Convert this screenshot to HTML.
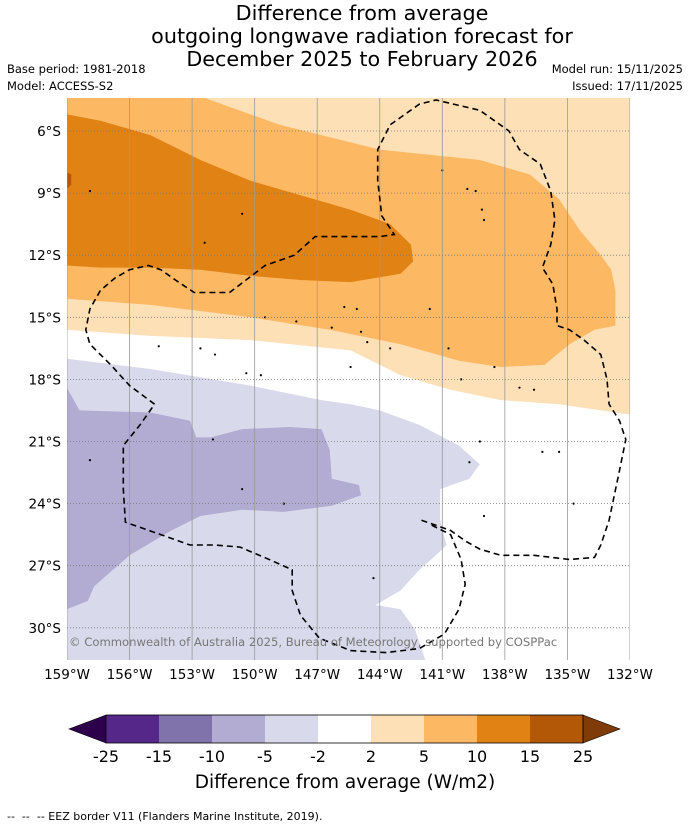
<!DOCTYPE html>
<html><head><meta charset="utf-8"><style>
body{margin:0;background:#fff;width:690px;height:827px;overflow:hidden;font-family:"Liberation Sans","DejaVu Sans",sans-serif}
</style></head><body>
<svg id="chart" width="690" height="827" xmlns="http://www.w3.org/2000/svg" font-family="DejaVu Sans, Liberation Sans, sans-serif">
<text x="362" y="20" font-size="20.7" text-anchor="middle">Difference from average</text>
<text x="362" y="43" font-size="20.7" text-anchor="middle">outgoing longwave radiation forecast for</text>
<text x="362" y="66" font-size="20.7" text-anchor="middle">December 2025 to February 2026</text>
<text x="7" y="73" font-size="11.5">Base period: 1981-2018</text>
<text x="7" y="90" font-size="11.5">Model: ACCESS-S2</text>
<text x="683" y="73" font-size="11.5" text-anchor="end">Model run: 15/11/2025</text>
<text x="683" y="90" font-size="11.5" text-anchor="end">Issued: 17/11/2025</text>
<defs><clipPath id="mapclip"><rect x="67" y="98" width="563" height="562"/></clipPath></defs>
<g id="map" clip-path="url(#mapclip)"></g>
<g id="axes"></g>
<g id="cbar"></g>
<text x="345" y="788" font-size="18.5" text-anchor="middle">Difference from average (W/m2)</text>
<text x="7" y="820" font-size="11" style="white-space:pre">--  --  -- EEZ border V11 (Flanders Marine Institute, 2019).</text>
</svg>
<script>
// data: [lon°W, lat°S]
const lightOrange=[[159,4.4],[132,4.4],[132,19.7],[135.4,19.2],[138.2,19.0],[140.6,18.5],[143.0,17.8],[145.4,16.6],[150.2,16.1],[155.0,15.9],[159,15.6]];
const medOrange=[[159,4.4],[152.4,4.4],[148.8,5.7],[144.0,6.9],[139.2,7.4],[136.8,8.1],[135.4,9.3],[134.4,10.8],[133.4,12.0],[132.9,12.7],[132.7,13.7],[132.7,15.4],[133.7,15.6],[134.9,16.3],[136.1,17.3],[138.2,17.4],[140.2,17.1],[143.0,16.3],[146.4,15.6],[150.2,15.0],[155.0,14.4],[159,14.1]];
const darkOrange=[[159,5.2],[157.4,5.5],[155.0,6.2],[152.6,7.4],[150.2,8.4],[147.8,9.1],[145.4,9.8],[143.5,10.5],[142.5,11.5],[142.4,12.3],[143.0,12.9],[145.4,13.3],[147.8,13.2],[150.2,13.0],[152.6,12.7],[155.0,12.6],[157.4,12.6],[159,12.5]];
const darkestOrange=[[159,8.0],[158.8,8.1],[158.8,8.6],[159,8.8]];
const lavender=[[159,17.0],[155.0,17.5],[150.2,18.3],[146.8,19.0],[145.4,19.2],[144.0,19.5],[142.1,20.2],[140.2,21.2],[139.2,22.1],[139.7,22.8],[141.1,23.3],[141.1,24.8],[140.8,26.0],[141.3,26.5],[142.1,27.2],[143.0,28.2],[144.2,28.9],[143.0,29.1],[142.3,30.1],[141.8,31.6],[159,31.6]];
const medPurple=[[159,18.4],[158.4,19.5],[155.0,19.6],[153.1,20.0],[152.8,20.8],[152.1,20.8],[150.6,20.4],[148.3,20.3],[146.8,20.4],[146.4,21.4],[146.3,22.8],[145.0,23.1],[144.9,23.6],[146.3,24.1],[148.6,24.4],[150.6,24.3],[152.6,24.6],[154.0,25.3],[156.0,26.5],[157.7,28.0],[158.0,28.7],[159,29.1]];
const eezA=[[142.0,24.8],[140.6,25.3],[139.9,25.8],[139.2,26.2],[138.2,26.5],[136.6,26.5],[134.9,26.7],[133.7,26.6],[133.4,26.0],[133.0,24.8],[132.5,22.4],[132.2,20.9],[132.5,20.0],[133.0,19.2],[133.1,18.0],[133.4,16.8],[134.2,16.1],[134.9,15.6],[135.5,15.4],[135.5,14.6],[135.7,13.4],[136.2,12.6],[135.8,11.5],[135.6,10.3],[135.8,8.9],[136.3,7.6],[137.3,6.9],[137.8,6.0],[139.2,5.0],[141.3,4.5],[142.1,4.7],[143.5,5.7],[144.1,6.9],[144.1,8.4],[143.9,10.1],[143.3,11.0],[144.0,11.1],[147.1,11.1],[148.1,12.0],[149.5,12.5],[151.2,13.8],[152.9,13.8],[153.8,13.2],[154.5,12.7],[155.1,12.5],[156.0,12.7],[156.7,13.1],[157.4,13.7],[157.9,14.6],[158.1,15.6],[157.9,16.3],[156.9,17.3],[156.0,18.3],[154.8,19.2],[155.5,20.2],[156.3,21.2],[156.3,23.3],[156.2,24.9],[154.5,25.5],[153.1,26.0],[151.9,26.0],[150.7,26.1],[149.3,26.7],[148.2,27.2],[148.2,28.2],[147.8,29.4],[146.9,30.5],[145.4,31.1],[143.7,31.2],[142.1,31.0],[140.9,30.3],[140.2,29.1],[139.9,27.9],[140.1,26.7],[140.6,25.5],[141.6,25.0]];
const islands=[[157.9,8.9],[150.6,10.0],[152.4,11.4],[141.0,7.9],[139.8,8.8],[139.4,8.9],[139.1,9.8],[139.0,10.3],[145.7,14.5],[145.1,14.6],[141.6,14.6],[149.5,15.0],[148.0,15.2],[146.3,15.5],[144.9,15.7],[144.6,16.2],[143.5,16.5],[140.7,16.5],[154.6,16.4],[152.6,16.5],[151.9,16.8],[150.4,17.7],[149.7,17.8],[145.4,17.4],[140.1,18.0],[138.5,17.4],[139.2,21.0],[139.7,22.0],[136.2,21.5],[135.4,21.5],[134.7,24.0],[139.0,24.6],[144.3,27.6],[137.3,18.4],[136.6,18.5],[152.0,20.9],[157.9,21.9],[150.6,23.3],[148.6,24.0]];
const lonTicks=[159,156,153,150,147,144,141,138,135,132];
const latTicks=[6,9,12,15,18,21,24,27,30];
const cbLevels=["-25","-15","-10","-5","-2","2","5","10","15","25"];
const cbColors=["#542788","#8073ac","#b2abd2","#d8daeb","#ffffff","#fee0b6","#fdb863","#e08214","#b35806"];

const NS='http://www.w3.org/2000/svg';
const X=lonW=>67+(159-lonW)*20.85;
const Y=latS=>131+(latS-6)*20.7;
function mk(tag,attrs,parent){const e=document.createElementNS(NS,tag);for(const k in attrs)e.setAttribute(k,attrs[k]);parent.appendChild(e);return e;}
const pts=a=>a.map(p=>X(p[0]).toFixed(1)+','+Y(p[1]).toFixed(1)).join(' ');
const map=document.getElementById('map');
let bg=mk('rect',{x:67,y:98,width:563,height:562,fill:'#fff'},map);


const layers=[[lightOrange,'#fee0b6','anomaly-2-to-5'],[medOrange,'#fdb863','anomaly-5-to-10'],[darkOrange,'#e08214','anomaly-10-to-15'],[darkestOrange,'#b35806','anomaly-15-to-25'],[lavender,'#d8daeb','anomaly-minus5-to-minus2'],[medPurple,'#b2abd2','anomaly-minus10-to-minus5']];
layers.forEach(l=>{const p=mk('polygon',{points:pts(l[0]),fill:l[1]},map);

});
islands.forEach(i=>{const c=mk('circle',{cx:X(i[0]),cy:Y(i[1]),r:1.1,fill:'#000'},map);

});
const ax=document.getElementById('axes');
lonTicks.forEach(t=>{const l=mk('line',{x1:X(t),x2:X(t),y1:98,y2:660,stroke:'#999','stroke-width':0.8},map);


const tx=mk('text',{x:X(t),y:679,'font-size':13.5,'text-anchor':'middle'},ax);tx.textContent=t+'°W';

});
latTicks.forEach(t=>{const l=mk('line',{x1:67,x2:630,y1:Y(t),y2:Y(t),stroke:'#777','stroke-width':0.8,'stroke-dasharray':'1,2'},map);


const tx=mk('text',{x:61,y:Y(t)+5,'font-size':13.5,'text-anchor':'end'},ax);tx.textContent=t+'°S';

});
const ez=mk('polyline',{points:pts(eezA),fill:'none',stroke:'#000','stroke-width':1.6,'stroke-dasharray':'6,4'},map);


const cr=mk('text',{x:69,y:646,'font-size':11.6,fill:'#777'},map);cr.textContent='© Commonwealth of Australia 2025, Bureau of Meteorology, supported by COSPPac';


// colorbar
const cb=document.getElementById('cbar');
const cx0=106,cw=53,cy=715,ch=28;
let lt=mk('polygon',{points:`${cx0},${cy} ${cx0},${cy+ch} 69,${cy+ch/2}`,fill:'#2d004b',stroke:'#000','stroke-width':0.6},cb);


cbColors.forEach((c,i)=>{const r=mk('rect',{x:cx0+i*cw,y:cy,width:cw,height:ch,fill:c},cb);

});
const end=cx0+cbColors.length*cw;
let rt=mk('polygon',{points:`${end},${cy} ${end},${cy+ch} 620,${cy+ch/2}`,fill:'#7f3b08',stroke:'#000','stroke-width':0.6},cb);


mk('rect',{x:cx0,y:cy,width:end-cx0,height:ch,fill:'none',stroke:'#000','stroke-width':0.8},cb);
cbLevels.forEach((v,i)=>{const t=mk('text',{x:cx0+i*cw,y:762,'font-size':16,'text-anchor':'middle'},cb);t.textContent=v;

});
</script>
</body></html>
